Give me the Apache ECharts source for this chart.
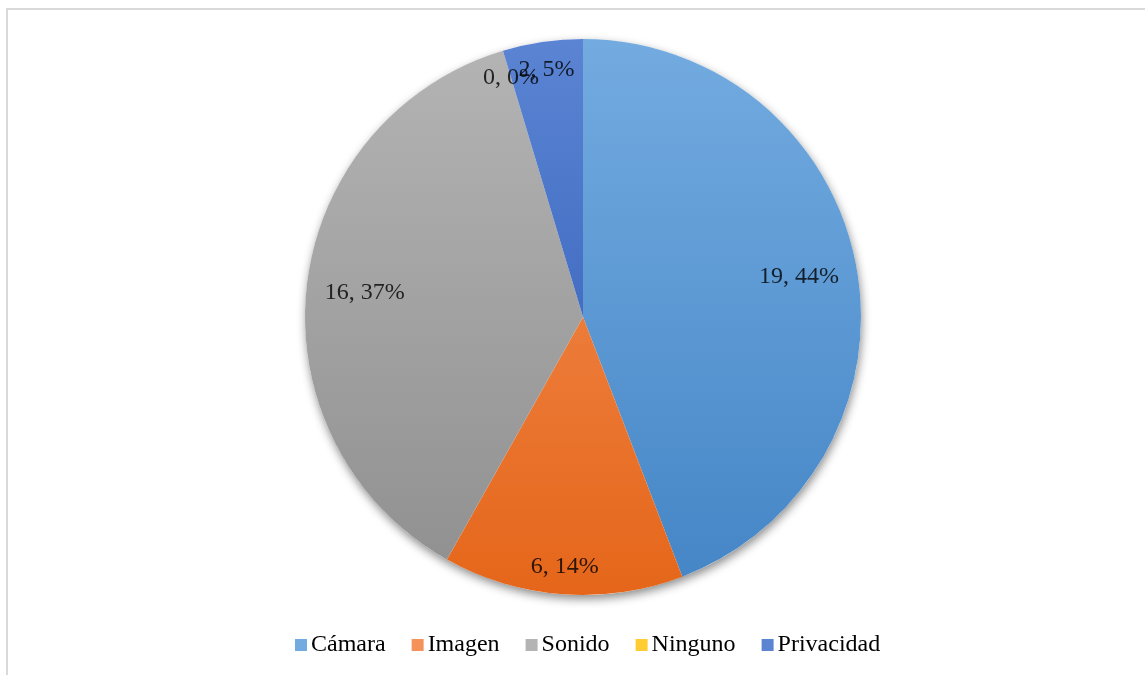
<!DOCTYPE html>
<html>
<head>
<meta charset="utf-8">
<title>Pie</title>
<script src="https://cdn.jsdelivr.net/npm/echarts@6/dist/echarts.min.js"></script>
<style>
  html, body { margin: 0; padding: 0; background: #fff; }
  #chart { width: 1145px; height: 675px; }
</style>
</head>
<body>
<div id="chart"></div>
<script>
// chart data
const categories = ['Cámara', 'Imagen', 'Sonido', 'Ninguno', 'Privacidad']
const counts = [19, 6, 16, 0, 2]

// gradient fills (top, bottom) per category
const fills = [
  ['#73abe0', '#4485c6'],
  ['#f4925a', '#e5661a'],
  ['#b4b4b4', '#8f8f8f'],
  ['#ffcc33', '#f0b400'],
  ['#5b84d3', '#2a58b2']
]
// labels that Excel pushed closer to the rim
const rimLabels = ['Imagen', 'Ninguno', 'Privacidad']

const font = "'Liberation Serif', 'Times New Roman', serif"
const cx = 583
const cy = 317
const r = 278

const chart = echarts.init(document.getElementById('chart'))

const total = counts.reduce((a, b) => a + b, 0)

function grad (i) {
  return new echarts.graphic.LinearGradient(0, cy - r, 0, cy + r, [
    { offset: 0, color: fills[i][0] },
    { offset: 1, color: fills[i][1] }
  ], true)
}

const sliceData = categories.map((name, i) => ({
  name: name,
  value: counts[i],
  itemStyle: { color: grad(i) }
}))

// data labels sit on a polar grid laid over the pie: [radius share, mid value]
let running = 0
const labelPoints = categories.map((name, i) => {
  const mid = running + counts[i] / 2
  running += counts[i]
  return {
    name: name,
    value: [rimLabels.includes(name) ? 0.9 : 0.79, mid],
    count: counts[i]
  }
})

const option = {
  animation: false,
  graphic: [{
    type: 'rect',
    shape: { x: 7, y: 9, width: 1160, height: 690 },
    style: { fill: 'none', stroke: '#d9d9d9', lineWidth: 2 }
  }],
  polar: { center: [cx, cy], radius: r },
  angleAxis: { type: 'value', min: 0, max: total, startAngle: 90, clockwise: true, show: false },
  radiusAxis: { type: 'value', min: 0, max: 1, show: false },
  legend: {
    left: 290,
    top: 628,
    itemWidth: 12,
    itemHeight: 12,
    itemGap: 26,
    icon: 'rect',
    textStyle: { fontFamily: font, fontSize: 24, color: '#000', padding: [2, 0, 0, -1] },
    data: categories.map((name, i) => ({
      name: name,
      itemStyle: { color: fills[i][0] }
    }))
  },
  series: [
    {
      // backdrop carrying the drop shadow of the whole pie
      type: 'pie',
      center: [cx, cy],
      radius: r,
      z: 1,
      silent: true,
      label: { show: false },
      labelLine: { show: false },
      itemStyle: {
        color: '#fff',
        shadowBlur: 10,
        shadowOffsetY: 4,
        shadowOffsetX: 1,
        shadowColor: 'rgba(0,0,0,0.45)'
      },
      emphasis: { disabled: true },
      data: [{ name: 'total', value: total }]
    },
    {
      type: 'pie',
      center: [cx, cy],
      radius: r,
      z: 2,
      startAngle: 90,
      clockwise: true,
      label: { show: false },
      labelLine: { show: false },
      emphasis: { disabled: true },
      data: sliceData
    },
    {
      type: 'scatter',
      coordinateSystem: 'polar',
      z: 4,
      silent: true,
      symbolSize: 1,
      itemStyle: { color: 'transparent' },
      label: {
        show: true,
        position: 'inside',
        color: '#000',
        fontFamily: font,
        fontSize: 24,
        formatter: p => p.data.count + ', ' + Math.round(p.data.count / total * 100) + '%'
      },
      emphasis: { disabled: true },
      data: labelPoints
    }
  ]
}

chart.setOption(option)
</script>
</body>
</html>
